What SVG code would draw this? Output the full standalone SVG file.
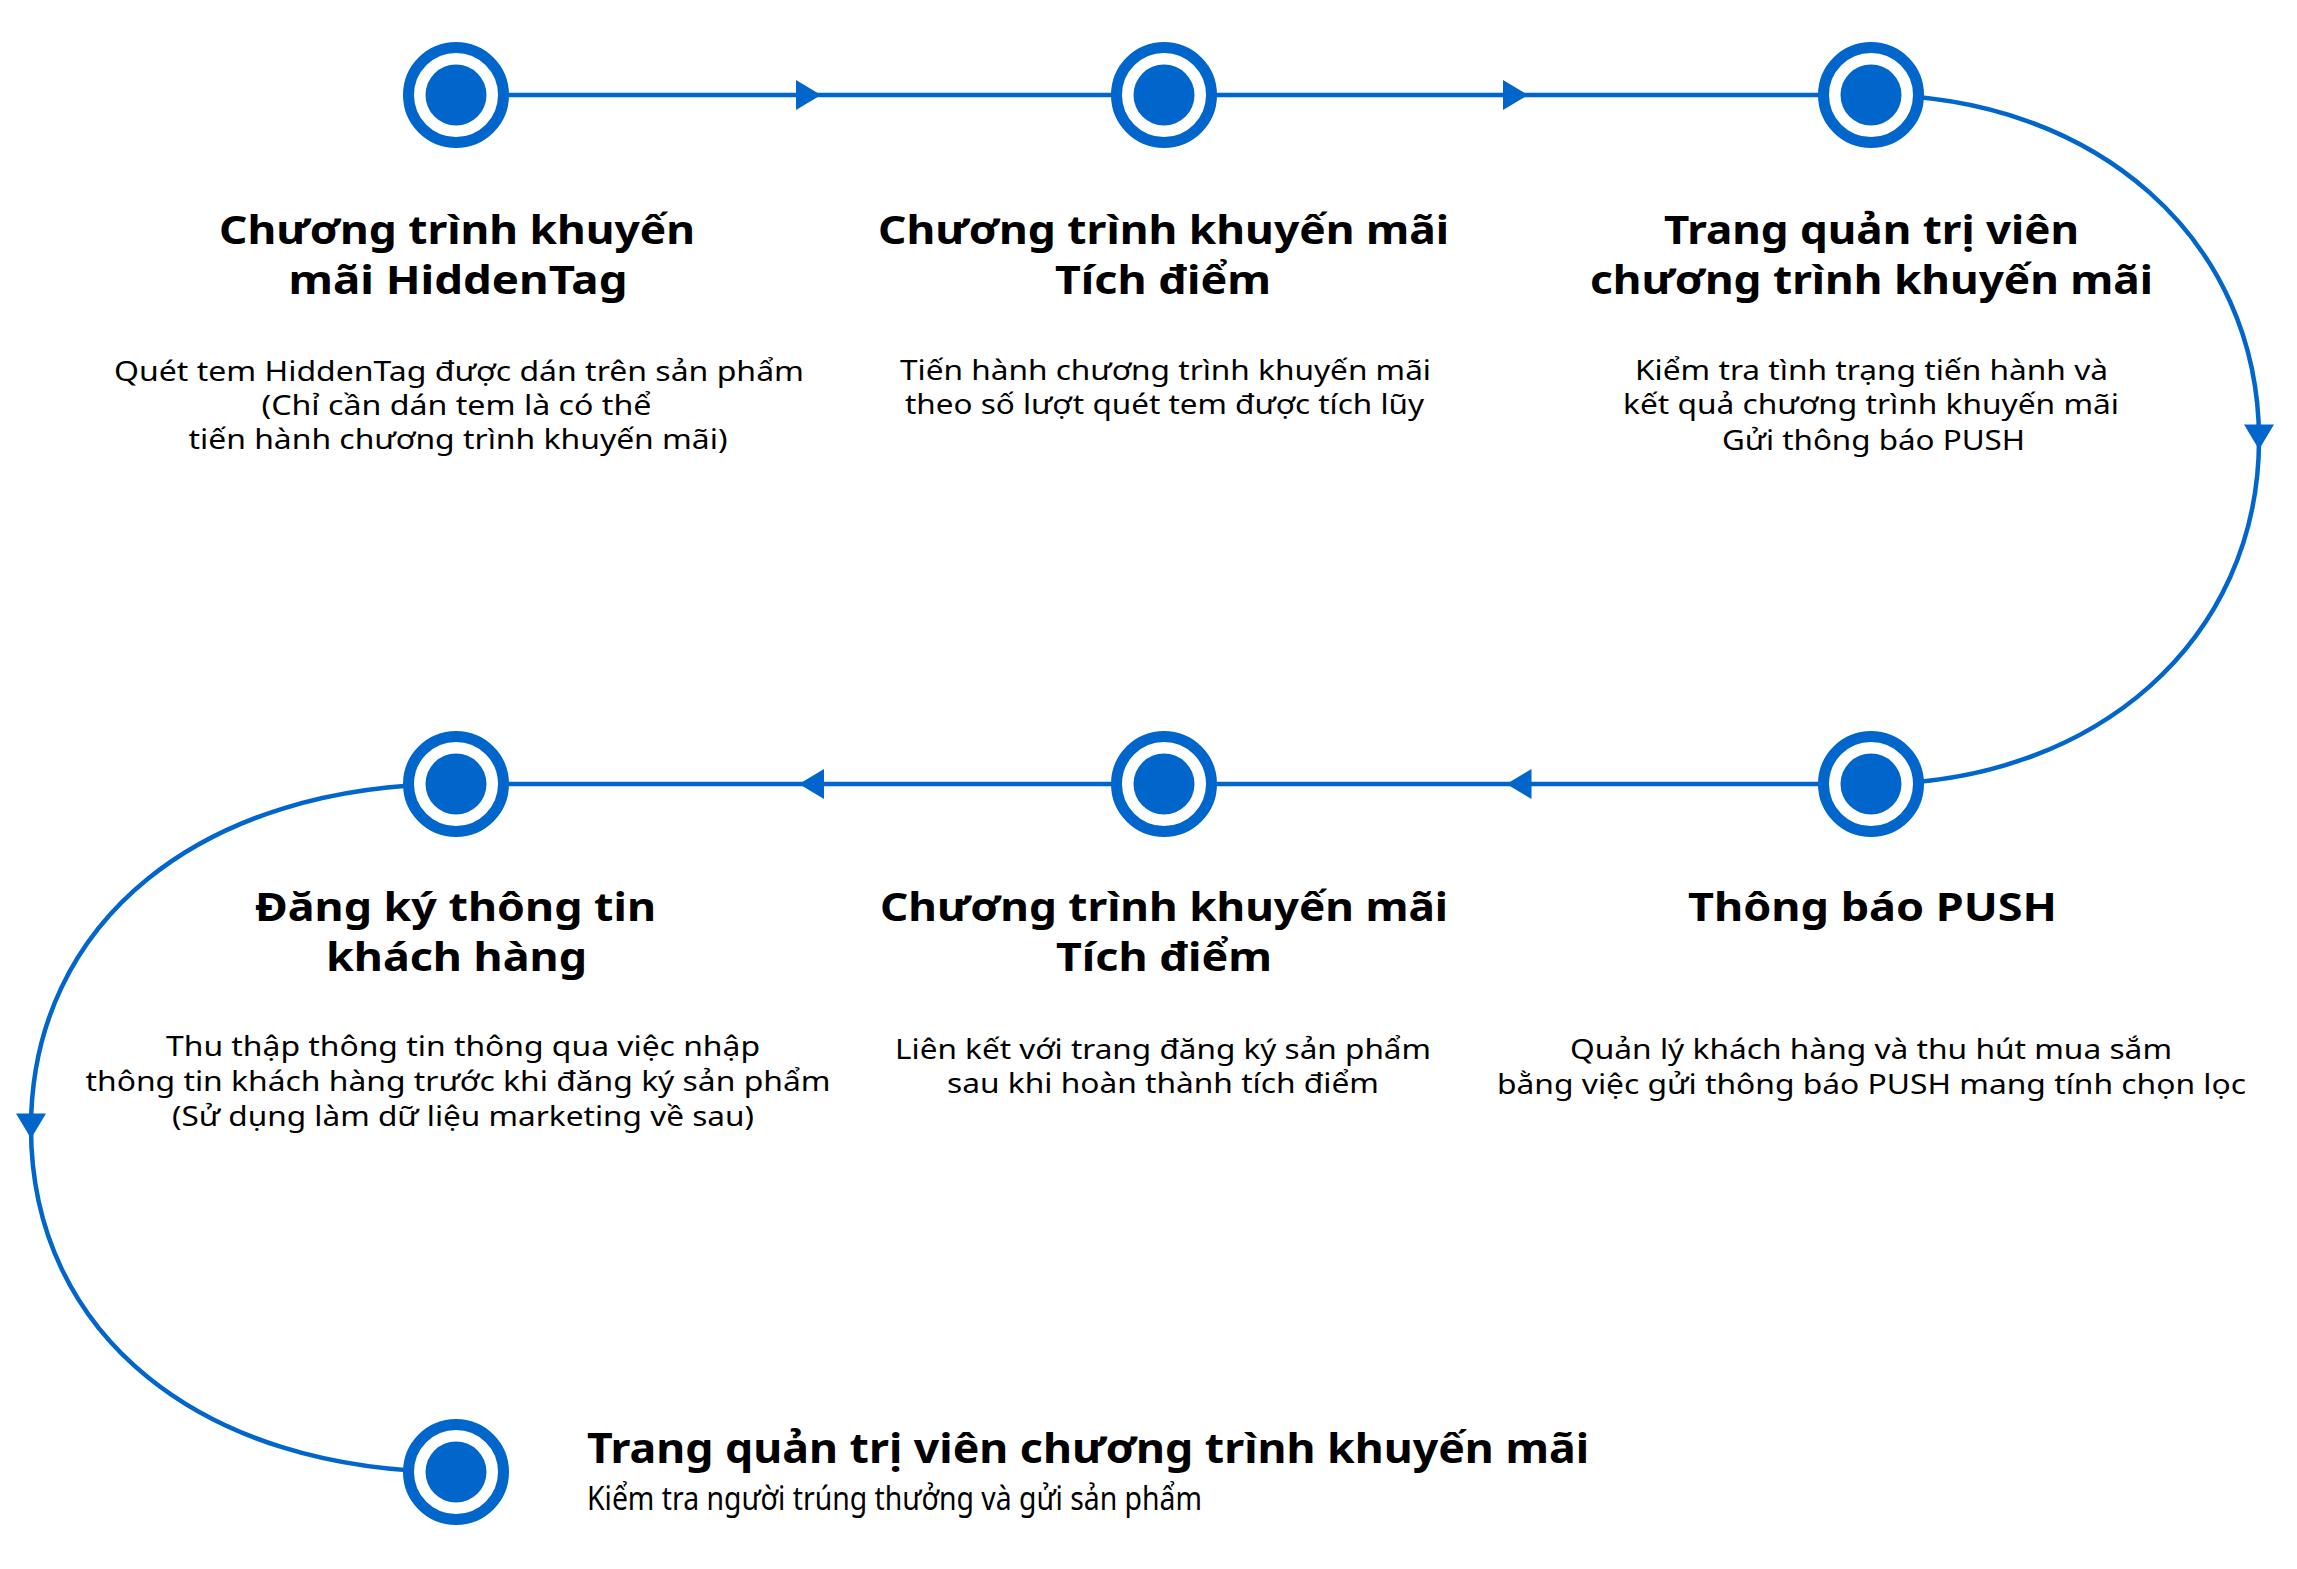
<svg xmlns="http://www.w3.org/2000/svg" xmlns:xlink="http://www.w3.org/1999/xlink" width="2297" height="1569" viewBox="0 0 2297 1569">
<style>
.ln{fill:none;stroke:#0066cc;stroke-width:4.5}
.ar{fill:#0066cc}
.t{font-family:"Noto Sans","DejaVu Sans",sans-serif;font-weight:700;font-size:40px;fill:#000;text-anchor:middle}
.d{font-family:"Noto Sans","DejaVu Sans",sans-serif;font-weight:400;font-size:28px;fill:#000;text-anchor:middle}
.bt{font-family:"Noto Sans","DejaVu Sans",sans-serif;font-weight:700;font-size:42px;fill:#000}
.bd{font-family:"Noto Sans","DejaVu Sans",sans-serif;font-weight:400;font-size:32px;fill:#000}
</style>
<defs>
<g id="dot">
<circle r="47.5" fill="#fff" stroke="#0066cc" stroke-width="11"/>
<circle r="30.5" fill="#0066cc"/>
</g>
<path id="arr" d="M-12.5,-15 L12.5,0 L-12.5,15 Z"/>
</defs>
<rect width="2297" height="1569" fill="#fff"/>
<g id="connectors">
<line class="ln" x1="456" y1="95" x2="1871" y2="95"/>
<path class="ln" d="M1871,95 C2096,95 2259,240 2259,439.5 C2259,639 2096,784 1871,784"/>
<line class="ln" x1="1871" y1="784" x2="456" y2="784"/>
<path class="ln" d="M456,784 C201,784 31,922 31,1128 C31,1334 201,1472 456,1472"/>
<use class="ar" xlink:href="#arr" href="#arr" transform="translate(808.5,95)"/>
<use class="ar" xlink:href="#arr" href="#arr" transform="translate(1515.5,95)"/>
<use class="ar" xlink:href="#arr" href="#arr" transform="translate(2259,437) rotate(90)"/>
<use class="ar" xlink:href="#arr" href="#arr" transform="translate(1519,784) rotate(180)"/>
<use class="ar" xlink:href="#arr" href="#arr" transform="translate(811.5,784) rotate(180)"/>
<use class="ar" xlink:href="#arr" href="#arr" transform="translate(31,1126) rotate(90)"/>
</g>
<g id="node1">
<use xlink:href="#dot" href="#dot" x="456" y="95"/>
<text class="t" x="457" y="244" textLength="476" lengthAdjust="spacingAndGlyphs">Chương trình khuyến</text>
<text class="t" x="458" y="294" textLength="339" lengthAdjust="spacingAndGlyphs">mãi HiddenTag</text>
<text class="d" x="459" y="381" textLength="690" lengthAdjust="spacingAndGlyphs">Quét tem HiddenTag được dán trên sản phẩm</text>
<text class="d" x="456.5" y="415" textLength="390" lengthAdjust="spacingAndGlyphs">(Chỉ cần dán tem là có thể</text>
<text class="d" x="458" y="449" textLength="539" lengthAdjust="spacingAndGlyphs">tiến hành chương trình khuyến mãi)</text>
</g>
<g id="node2">
<use xlink:href="#dot" href="#dot" x="1164" y="95"/>
<text class="t" x="1163.5" y="244" textLength="571" lengthAdjust="spacingAndGlyphs">Chương trình khuyến mãi</text>
<text class="t" x="1163" y="294" textLength="216" lengthAdjust="spacingAndGlyphs">Tích điểm</text>
<text class="d" x="1165.5" y="380" textLength="531" lengthAdjust="spacingAndGlyphs">Tiến hành chương trình khuyến mãi</text>
<text class="d" x="1164.5" y="414" textLength="519" lengthAdjust="spacingAndGlyphs">theo số lượt quét tem được tích lũy</text>
</g>
<g id="node3">
<use xlink:href="#dot" href="#dot" x="1871" y="95"/>
<text class="t" x="1871.5" y="244" textLength="415" lengthAdjust="spacingAndGlyphs">Trang quản trị viên</text>
<text class="t" x="1871.5" y="294" textLength="563" lengthAdjust="spacingAndGlyphs">chương trình khuyến mãi</text>
<text class="d" x="1871.5" y="380" textLength="473" lengthAdjust="spacingAndGlyphs">Kiểm tra tình trạng tiến hành và</text>
<text class="d" x="1871" y="414" textLength="496" lengthAdjust="spacingAndGlyphs">kết quả chương trình khuyến mãi</text>
<text class="d" x="1873.5" y="450" textLength="303" lengthAdjust="spacingAndGlyphs">Gửi thông báo PUSH</text>
</g>
<g id="node4">
<use xlink:href="#dot" href="#dot" x="1871" y="784"/>
<text class="t" x="1872.5" y="921" textLength="369" lengthAdjust="spacingAndGlyphs">Thông báo PUSH</text>
<text class="d" x="1871" y="1059" textLength="602" lengthAdjust="spacingAndGlyphs">Quản lý khách hàng và thu hút mua sắm</text>
<text class="d" x="1871.5" y="1094" textLength="749" lengthAdjust="spacingAndGlyphs">bằng việc gửi thông báo PUSH mang tính chọn lọc</text>
</g>
<g id="node5">
<use xlink:href="#dot" href="#dot" x="1164" y="784"/>
<text class="t" x="1164" y="921" textLength="568" lengthAdjust="spacingAndGlyphs">Chương trình khuyến mãi</text>
<text class="t" x="1164" y="971" textLength="216" lengthAdjust="spacingAndGlyphs">Tích điểm</text>
<text class="d" x="1163" y="1059" textLength="536" lengthAdjust="spacingAndGlyphs">Liên kết với trang đăng ký sản phẩm</text>
<text class="d" x="1163" y="1093" textLength="432" lengthAdjust="spacingAndGlyphs">sau khi hoàn thành tích điểm</text>
</g>
<g id="node6">
<use xlink:href="#dot" href="#dot" x="456" y="784"/>
<text class="t" x="455.5" y="921" textLength="401" lengthAdjust="spacingAndGlyphs">Đăng ký thông tin</text>
<text class="t" x="456.5" y="971" textLength="261" lengthAdjust="spacingAndGlyphs">khách hàng</text>
<text class="d" x="463" y="1056" textLength="594" lengthAdjust="spacingAndGlyphs">Thu thập thông tin thông qua việc nhập</text>
<text class="d" x="458" y="1091" textLength="745" lengthAdjust="spacingAndGlyphs">thông tin khách hàng trước khi đăng ký sản phẩm</text>
<text class="d" x="463" y="1126" textLength="582" lengthAdjust="spacingAndGlyphs">(Sử dụng làm dữ liệu marketing về sau)</text>
</g>
<g id="node7">
<use xlink:href="#dot" href="#dot" x="456" y="1472"/>
<text class="bt" x="587" y="1463" textLength="1002" lengthAdjust="spacingAndGlyphs">Trang quản trị viên chương trình khuyến mãi</text>
<text class="bd" x="587" y="1510" textLength="615" lengthAdjust="spacingAndGlyphs">Kiểm tra người trúng thưởng và gửi sản phẩm</text>
</g>
</svg>
